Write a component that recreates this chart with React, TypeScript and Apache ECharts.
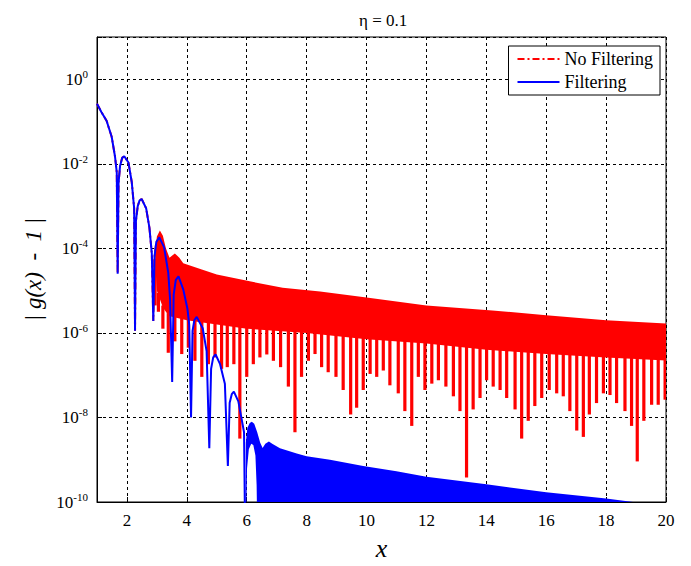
import React, { useEffect, useRef } from 'react';
import * as echarts from 'echarts';

// ---------- text ----------
const titleText = 'η = 0.1';
const nameNoFilter = 'No Filtering';
const nameFilter = 'Filtering';
const yAxisTitle = '| g(x)  -  1 |';
const xAxisTitle = 'x';

// ---------- axes ----------
const xMin = 1;
const xMax = 20;
const yMinExp = -10;
const yMaxExp = 1;

// ---------- "Filtering" curve: isolated lobes (x, log10 value) ----------
const filtLobeX = [1.00, 1.15, 1.32, 1.49, 1.60, 1.66, 1.69, 1.72, 1.77, 1.84,
  1.91, 2.05, 2.16, 2.24, 2.27, 2.30, 2.36, 2.42, 2.49, 2.64,
  2.75, 2.83, 2.88, 2.92, 2.98, 3.08, 3.24, 3.38, 3.44, 3.51,
  3.56, 3.63, 3.72, 3.88, 4.02, 4.08, 4.14, 4.19, 4.25, 4.33,
  4.53, 4.66, 4.75, 4.81, 4.88, 4.96, 5.11, 5.27, 5.37, 5.43,
  5.50, 5.57, 5.72, 5.83, 5.91, 5.95];
const filtLobeLog = [-0.58, -0.78, -0.98, -1.36, -1.82, -2.2, -4.6, -2.45, -2.05, -1.86,
  -1.82, -1.97, -2.43, -3.05, -5.95, -3.35, -3.0, -2.87, -2.83, -3.05,
  -3.51, -4.12, -5.72, -4.2, -3.85, -3.74, -3.97, -4.58, -5.2, -7.16,
  -5.1, -4.75, -4.66, -4.97, -5.43, -5.81, -8.0, -5.95, -5.7, -5.62,
  -5.89, -6.43, -8.73, -6.85, -6.58, -6.51, -6.74, -7.2, -9.15, -7.65,
  -7.45, -7.39, -7.62, -8.04, -8.35, -11];

// ---------- "Filtering" curve: dense oscillation band ----------
const filtBandUpperX = [5.95, 5.97, 6.02, 6.10, 6.17, 6.25, 6.35, 6.45, 6.53, 6.62,
  6.74, 6.85, 7.11, 7.67, 8.00, 8.78, 9.89, 11.0, 12.0, 14.0, 16.0, 18.0, 18.9, 19.3];
const filtBandUpperLog = [-11, -8.6, -8.25, -8.13, -8.10, -8.15, -8.35, -8.6, -8.72, -8.62,
  -8.57, -8.62, -8.73, -8.85, -8.92, -9.0, -9.15, -9.27, -9.4, -9.58, -9.77, -9.92, -10.0, -10.05];
const filtBandLowerX = [5.97, 6.01, 6.07, 6.15, 6.22, 6.29, 6.33, 6.36, 19.3];
const filtBandLowerLog = [-11, -9.2, -8.75, -8.62, -8.65, -8.9, -9.6, -11, -11];

// ---------- "No Filtering" curve: dense oscillation band ----------
const noFiltUpperX = [2.94, 3.00, 3.10, 3.20, 3.30, 3.42, 3.60, 3.75, 3.88, 4.50,
  5.00, 6.10, 7.20, 8.45, 10.0, 12.0, 14.2, 16.0, 18.0, 20.0];
const noFiltUpperLog = [-4.1, -3.72, -3.58, -3.7, -4.0, -4.22, -4.12, -4.22, -4.35, -4.5,
  -4.62, -4.78, -4.93, -5.02, -5.16, -5.35, -5.47, -5.58, -5.70, -5.78];
const noFiltLowerX = [2.94, 3.00, 3.20, 3.40, 4.00, 5.00, 6.00, 8.00, 10.0, 12.0, 14.0, 16.0, 18.0, 20.0];
const noFiltLowerLog = [-4.3, -5.0, -5.4, -5.6, -5.7, -5.8, -5.9, -6.0, -6.15, -6.25, -6.4, -6.5, -6.58, -6.65];

// ---------- "No Filtering" curve: deep minima (comb teeth) ----------
const noFiltTeethX = [2.94, 3.05, 3.20, 3.38, 3.60, 3.83, 4.05, 4.27, 4.50, 4.72,
  4.94, 5.16, 5.35, 5.57, 5.77, 6.00, 6.22, 6.44, 6.67, 6.89,
  7.13, 7.39, 7.61, 7.83, 8.06, 8.28, 8.50, 8.72, 8.98, 9.22,
  9.47, 9.67, 9.89, 10.12, 10.34, 10.56, 10.78, 11.06, 11.28, 11.51,
  11.73, 11.95, 12.18, 12.40, 12.65, 12.90, 13.12, 13.34, 13.56, 13.79,
  14.01, 14.23, 14.46, 14.68, 14.96, 15.18, 15.40, 15.62, 15.85, 16.10,
  16.35, 16.57, 16.79, 17.02, 17.24, 17.44, 17.68, 17.91, 18.13, 18.35,
  18.63, 18.85, 19.04, 19.26, 19.52, 19.74, 19.97];
const noFiltTeethLog = [-5.35, -5.5, -5.9, -6.47, -6.20, -6.50, -6.35, -6.66, -7.04, -6.74,
  -6.58, -6.85, -6.81, -6.74, -8.50, -7.04, -6.74, -6.58, -6.51, -6.66,
  -6.81, -7.27, -8.35, -7.04, -6.66, -6.50, -6.81, -6.93, -7.04, -7.35,
  -7.93, -7.77, -7.35, -6.97, -7.04, -6.89, -7.24, -7.43, -7.85, -8.20,
  -7.04, -7.35, -7.20, -7.12, -7.27, -7.50, -7.85, -9.42, -7.81, -7.54,
  -7.12, -7.27, -7.35, -7.54, -7.81, -8.50, -8.08, -7.73, -7.54, -7.35,
  -7.43, -7.50, -7.85, -8.31, -8.46, -7.93, -7.66, -7.43, -7.47, -7.66,
  -7.85, -8.20, -9.04, -8.08, -7.70, -7.70, -7.58];

// the two curves coincide for x below this value
const sharedUntilX = 3.08;

const RED = '#ff0000';
const BLUE = '#0000ff';
const FONT = 'Liberation Serif';

const toVal = (e: number) => Math.pow(10, e);

function logAt(xs: number[], logs: number[], x: number) {
  if (x <= xs[0]) return logs[0];
  for (let i = 1; i < xs.length; i++) {
    if (x <= xs[i]) {
      const t = (x - xs[i - 1]) / (xs[i] - xs[i - 1]);
      return logs[i - 1] + t * (logs[i] - logs[i - 1]);
    }
  }
  return logs[logs.length - 1];
}

function bandSeries(name: string, ux: number[], ul: number[], lx: number[], ll: number[], color: string, z: number) {
  return {
    type: 'custom',
    name,
    silent: true,
    clip: true,
    z,
    data: [[ux[0], toVal(ul[0])]],
    renderItem: (_p: any, api: any) => {
      const pts: number[][] = [];
      for (let i = 0; i < ux.length; i++) pts.push(api.coord([ux[i], toVal(ul[i])]));
      for (let i = lx.length - 1; i >= 0; i--) pts.push(api.coord([lx[i], toVal(ll[i])]));
      return { type: 'polygon', shape: { points: pts }, style: { fill: color } };
    },
  };
}

export default function App() {
  const ref = useRef<HTMLDivElement>(null);

  useEffect(() => {
    if (!ref.current) return;
    const chart = echarts.init(ref.current, null, { renderer: 'svg' });

    const lobeData = filtLobeX.map((x, i) => [x, toVal(filtLobeLog[i])]);
    const sharedData = lobeData.filter((d) => d[0] <= sharedUntilX);
    const teethData = noFiltTeethX.map((x, i) => [x, toVal(noFiltTeethLog[i])]);

    const option: any = {
      animation: false,
      backgroundColor: '#ffffff',
      textStyle: { fontFamily: FONT },
      title: {
        text: titleText,
        left: 354,
        top: 7,
        textStyle: { fontFamily: FONT, fontSize: 17, fontWeight: 'normal', color: '#000' },
      },
      legend: {
        data: [nameNoFilter, nameFilter],
        orient: 'vertical',
        right: 31,
        top: 46,
        backgroundColor: '#ffffff',
        borderColor: '#000',
        borderWidth: 1,
        borderRadius: 0,
        padding: [4, 7, 4, 8],
        itemGap: 5,
        itemWidth: 42,
        itemHeight: 20,
        selectedMode: false,
        itemStyle: { opacity: 0 },
        textStyle: { fontFamily: FONT, fontSize: 18, color: '#000' },
      },
      grid: {
        left: 97,
        right: 25,
        top: 37,
        bottom: 51,
        show: true,
        borderColor: '#000',
        borderWidth: 1,
        backgroundColor: 'transparent',
      },
      xAxis: {
        type: 'value',
        min: xMin,
        max: xMax,
        splitNumber: 10,
        name: xAxisTitle,
        nameLocation: 'middle',
        nameGap: 33,
        nameTextStyle: { fontFamily: FONT, fontStyle: 'italic', fontSize: 26, color: '#000' },
        axisLine: { show: true, onZero: false, lineStyle: { color: '#000', width: 1 } },
        axisTick: { show: true, inside: true, length: 5, lineStyle: { color: '#000' } },
        axisLabel: { showMinLabel: false, margin: 10, fontFamily: FONT, fontSize: 17, color: '#000' },
        splitLine: { show: true, lineStyle: { color: '#000', type: [3, 3], width: 1 } },
      },
      yAxis: {
        type: 'log',
        logBase: 10,
        min: toVal(yMinExp),
        max: toVal(yMaxExp),
        interval: 2,
        name: yAxisTitle,
        nameLocation: 'middle',
        nameRotate: 90,
        nameGap: 52,
        nameTextStyle: { fontFamily: FONT, fontStyle: 'italic', fontSize: 23, color: '#000' },
        axisLine: { show: true, onZero: false, lineStyle: { color: '#000', width: 1 } },
        axisTick: { show: true, inside: true, length: 5, lineStyle: { color: '#000' } },
        axisLabel: {
          margin: 9,
          fontFamily: FONT,
          formatter: (v: number) => {
            const e = Math.round(Math.log10(v));
            if (e > 0) return '';
            return `{b|10}{s|${e}}`;
          },
          rich: {
            b: { fontFamily: FONT, fontSize: 17, color: '#000' },
            s: { fontFamily: FONT, fontSize: 11, color: '#000', padding: [0, 0, 10, 0] },
          },
        },
        splitLine: { show: true, lineStyle: { color: '#000', type: [3, 3], width: 1 } },
      },
      series: [
        bandSeries('noFiltBand', noFiltUpperX, noFiltUpperLog, noFiltLowerX, noFiltLowerLog, RED, 2),
        {
          type: 'custom',
          name: 'noFiltTeeth',
          silent: true,
          clip: true,
          z: 2,
          data: teethData,
          renderItem: (_p: any, api: any) => {
            const x = api.value(0);
            const yb = api.value(1);
            const top = api.coord([x, toVal(logAt(noFiltLowerX, noFiltLowerLog, x))]);
            const bot = api.coord([x, yb]);
            return {
              type: 'rect',
              shape: { x: bot[0] - 1.6, y: top[1] - 2, width: 3.2, height: bot[1] - top[1] + 2 },
              style: { fill: RED },
            };
          },
        },
        {
          type: 'line',
          name: nameNoFilter,
          data: sharedData,
          symbol: 'none',
          z: 3,
          lineStyle: { color: RED, width: 2, type: [7, 3, 2, 3] },
          itemStyle: { color: RED },
        },
        bandSeries('filtBand', filtBandUpperX, filtBandUpperLog, filtBandLowerX, filtBandLowerLog, BLUE, 4),
        {
          type: 'line',
          name: nameFilter,
          data: lobeData,
          symbol: 'none',
          z: 5,
          lineStyle: { color: BLUE, width: 2 },
          itemStyle: { color: BLUE },
        },
      ],
    };

    chart.setOption(option);
    return () => chart.dispose();
  }, []);

  return (
    <div
      ref={ref}
      style={{ position: 'absolute', left: 0, top: 0, width: 691, height: 566, background: '#fff' }}
    />
  );
}
